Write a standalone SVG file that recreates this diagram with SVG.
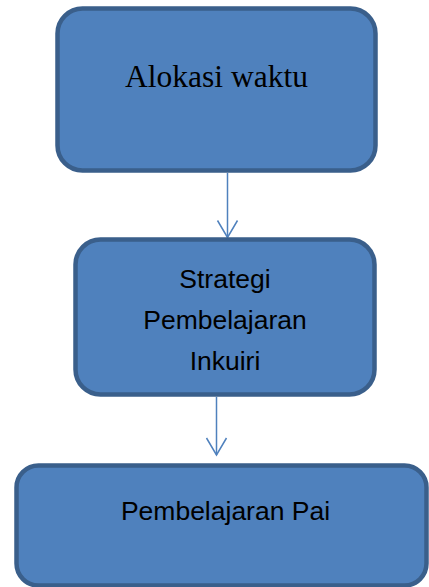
<svg xmlns="http://www.w3.org/2000/svg" width="429" height="587" viewBox="0 0 429 587">
<style>
.box{fill:#4F81BD;stroke:#3A5F8B;stroke-width:4.5}
.conn{fill:none;stroke:#4F81BD;stroke-width:1.5}
.serif{font-family:"Liberation Serif","Times New Roman",serif;font-size:31.5px;fill:#000}
.sans{font-family:"Liberation Sans",Arial,sans-serif;font-size:26.5px;fill:#000}
</style>
<defs>
<marker id="arr" markerUnits="userSpaceOnUse" orient="auto" viewBox="-19 -12 21 24" refX="0" refY="0" markerWidth="21" markerHeight="24">
<path d="M-17,-10 L0,0 L-17,10" fill="none" stroke="#4F81BD" stroke-width="1.5"/>
</marker>
</defs>
<g id="connectors">
<line class="conn" x1="227.5" y1="173" x2="227.5" y2="237.5" marker-end="url(#arr)"/>
<line class="conn" x1="216.5" y1="397" x2="216.5" y2="455" marker-end="url(#arr)"/>
</g>
<g id="node1">
<rect class="box" x="57.5" y="8.5" width="318" height="162" rx="25" ry="25"/>
<text class="serif" x="216.5" y="87" text-anchor="middle">Alokasi waktu</text>
</g>
<g id="node2">
<rect class="box" x="75.5" y="239.5" width="299" height="155" rx="25" ry="25"/>
<text class="sans" text-anchor="middle"><tspan x="225" y="288">Strategi</tspan><tspan x="225" y="329">Pembelajaran</tspan><tspan x="225" y="370">Inkuiri</tspan></text>
</g>
<g id="node3">
<rect class="box" x="16.5" y="465.5" width="410" height="120" rx="22" ry="22"/>
<text class="sans" x="225.5" y="520" text-anchor="middle">Pembelajaran Pai</text>
</g>
</svg>
